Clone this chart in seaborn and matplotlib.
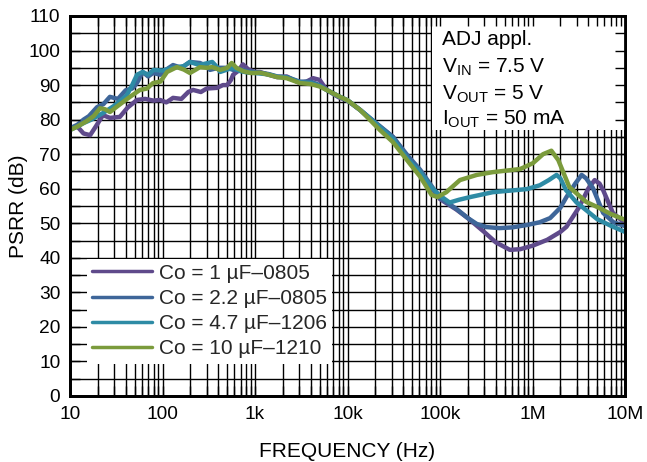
import numpy as np
import pandas as pd
import matplotlib
matplotlib.use("Agg")
import matplotlib.pyplot as plt
from matplotlib.lines import Line2D
from matplotlib.patches import Rectangle
from matplotlib.ticker import FixedLocator, LogLocator, NullFormatter, MultipleLocator
import seaborn as sns

# PSRR vs frequency for four output capacitors
labels = ["Co = 1 µF–0805", "Co = 2.2 µF–0805", "Co = 4.7 µF–1206", "Co = 10 µF–1210"]
colors = ["#5f4a8b", "#3e6699", "#2e8ba5", "#7b9b3c"]

f_1u = [10, 12, 14, 16.5, 19, 22.7, 27, 34.6, 42, 53, 65, 80, 94, 110, 130, 160, 190, 214,
        260, 300, 388, 450, 500, 550, 580, 650, 740, 850, 1000, 1130, 1400, 1740, 2200, 3050,
        3600, 4250, 5000, 5950, 8000, 10e3, 13.7e3, 20e3, 31e3, 45e3, 61e3, 80e3, 100e3,
        150e3, 200e3, 300e3, 400e3, 570e3, 736e3, 1e6, 1.44e6, 2e6, 2.33e6, 3.2e6, 4e6,
        4.7e6, 5.3e6, 5.8e6, 7.4e6, 10e6]
db_1u = [77.5, 78, 76, 75.5, 78, 81.3, 80.5, 80.8, 83.5, 85.7, 86, 85.5, 85.7, 85, 86.3, 86,
         88, 88.6, 88, 89, 89.2, 90, 90, 91.5, 93, 94, 96, 94.5, 93.8, 93.8, 93, 92.3, 92.5,
         90.6, 91, 92, 91.5, 88.6, 86.5, 85.5, 82.8, 79, 75, 69, 65, 60.5, 57, 54, 51.5,
         47.5, 44.5, 42.3, 42.5, 43.5, 45.2, 47.5, 49, 54.7, 60, 62.5, 61.5, 59.6, 53, 50]

f_2u2 = [10, 12, 14, 16, 19.6, 23, 27, 33, 40, 47, 53, 61, 70, 79, 95, 110, 130, 160, 198,
         254, 300, 326, 400, 500, 580, 700, 850, 1000, 1400, 1740, 2200, 3050, 4000, 5000,
         5950, 8000, 10e3, 13.7e3, 20e3, 31e3, 45e3, 61e3, 80e3, 100e3, 150e3, 200e3, 250e3,
         318e3, 440e3, 600e3, 870e3, 1.2e6, 1.55e6, 2e6, 2.33e6, 2.9e6, 3.4e6, 3.8e6, 4.5e6,
         5.8e6, 7.5e6, 10e6]
db_2u2 = [77.5, 78.5, 80, 81, 83.6, 84.5, 86.6, 86, 88.5, 89, 90.6, 93.8, 92.5, 93.5, 93,
          94.5, 95.8, 95, 96.7, 96.4, 95.5, 94.4, 95, 95, 94.4, 94.5, 94, 93.8, 93.2, 92.5,
          92.3, 91, 91, 90, 88.6, 86.8, 85.6, 82.8, 79.2, 75, 69.5, 65.5, 61, 57.3, 54.2,
          51.5, 49.8, 48.9, 48.6, 48.8, 49.5, 50.3, 51.5, 54.5, 57.6, 61.5, 64, 63, 60.2, 53,
          50.3, 49.2]

f_4u7 = [10, 12, 14, 17, 22.7, 30, 41, 47, 53, 61, 70, 80, 100, 120, 143, 170, 198, 250,
         300, 345, 380, 420, 500, 580, 700, 850, 1000, 1400, 1740, 2200, 3050, 4000, 5000,
         5950, 8000, 10e3, 13.7e3, 20e3, 31e3, 45e3, 61e3, 80e3, 100e3, 127e3, 160e3, 213e3,
         372e3, 600e3, 870e3, 1.2e6, 1.5e6, 1.82e6, 2e6, 2.3e6, 3e6, 3.8e6, 5e6, 7e6, 10e6]
db_4u7 = [77, 78, 79, 80, 81.9, 84, 87, 90, 93, 93.8, 93, 94.4, 94.2, 94.8, 95.2, 95.5,
          96.7, 95.8, 96.3, 96.7, 95.5, 93.8, 94.5, 95, 94, 93.6, 93.5, 93.1, 92.4, 92.2,
          90.8, 90.6, 89.8, 88.6, 86.8, 85.6, 82.8, 79, 74.5, 68.5, 64.8, 60.5, 58, 56,
          56.8, 57.6, 59, 59.5, 59.9, 61, 62.5, 64, 63, 59.6, 56, 53.8, 51.2, 49.3, 47.5]

f_10u = [10, 12, 15, 18, 21.1, 24, 27, 33, 44.5, 57, 68, 79, 95, 112, 143, 170, 198, 230,
         254, 300, 345, 420, 500, 560, 630, 750, 900, 1000, 1130, 1400, 1740, 2200, 3050,
         4000, 5000, 5950, 8000, 10e3, 13.7e3, 22.4e3, 31e3, 46.7e3, 61e3, 81e3, 94e3,
         117e3, 164e3, 250e3, 372e3, 736e3, 1.01e6, 1.3e6, 1.6e6, 1.9e6, 2.5e6, 3.8e6,
         5.3e6, 7e6, 10e6]
db_10u = [77, 78, 79.5, 81, 83.3, 83, 82.2, 84, 86.6, 88.6, 89, 90.6, 91, 93.8, 95.2, 94.5,
          93.5, 94.5, 95.2, 95, 95.2, 94.4, 95, 96.4, 95, 94, 93.5, 93.5, 93.6, 93, 92.3,
          92, 90.6, 90.3, 89.6, 88.6, 86.8, 85.6, 82.8, 77, 73.5, 67.4, 63.5, 58.2, 57.6,
          59, 62.5, 64, 64.8, 65.7, 67.4, 70, 71, 68.3, 60.5, 56.2, 54.4, 52.7, 51]

x_ticks = [10, 100, 1e3, 1e4, 1e5, 1e6, 1e7]
x_ticklabels = ["10", "100", "1k", "10k", "100k", "1M", "10M"]
y_ticks = list(range(0, 111, 10))

frames = []
for lab, f, d in zip(labels, [f_1u, f_2u2, f_4u7, f_10u], [db_1u, db_2u2, db_4u7, db_10u]):
    frames.append(pd.DataFrame({"freq": f, "psrr": d, "cap": lab}))
df = pd.concat(frames, ignore_index=True)

sns.set_theme(style="white")
plt.rcParams["font.family"] = ["Liberation Sans", "DejaVu Sans"]
plt.rcParams["mathtext.fontset"] = "custom"
plt.rcParams["mathtext.rm"] = "Liberation Sans"
plt.rcParams["mathtext.it"] = "Liberation Sans:italic"

fig = plt.figure(figsize=(6.47, 4.62), dpi=100)
rect = [70 / 647, 1 - 396 / 462, 555 / 647, 380 / 462]
ax = fig.add_axes(rect)

sns.lineplot(data=df, x="freq", y="psrr", hue="cap", palette=colors, hue_order=labels,
             sort=False, estimator=None, linewidth=3.2, legend=False, ax=ax, zorder=3)

ax.set_xscale("log")
ax.set_xlim(10, 1e7)
ax.set_ylim(0, 110)
ax.xaxis.set_major_locator(FixedLocator(x_ticks))
ax.set_xticklabels(x_ticklabels)
ax.xaxis.set_minor_locator(LogLocator(base=10, subs=np.arange(2, 10)))
ax.xaxis.set_minor_formatter(NullFormatter())
ax.set_yticks(y_ticks)
ax.yaxis.set_minor_locator(MultipleLocator(5))
ax.grid(True, which="both", color="black", linewidth=1.0)
ax.tick_params(axis="both", which="both", length=0, labelsize=13.8, labelcolor="black", pad=7)
for s in ax.spines.values():
    s.set_color("black")
    s.set_linewidth(2)

ax.set_xlabel("FREQUENCY (Hz)", fontsize=15, color="black", labelpad=14)
ax.set_ylabel("PSRR (dB)", fontsize=15, color="black", labelpad=0)

# legend with thin line handles on a plain white box
handles = [Line2D([0], [0], color=c, lw=2.5) for c in colors]
leg = ax.legend(handles, labels, loc="lower left", bbox_to_anchor=(0.03, 0.085),
                fontsize=15, frameon=True, fancybox=False, handlelength=2.9,
                handletextpad=0.3, labelspacing=0.3, borderpad=0.25, borderaxespad=0)
leg.get_frame().set_facecolor("white")
leg.get_frame().set_edgecolor("none")
leg.get_frame().set_alpha(1)
leg.set_zorder(6)

# conditions box in the upper right corner
ax.add_patch(Rectangle((0.652, 0.70), 0.348, 0.30, transform=ax.transAxes,
                       facecolor="white", edgecolor="none", zorder=5))
notes = ["ADJ appl.", r"V$_{\mathrm{IN}}$ = 7.5 V", r"V$_{\mathrm{OUT}}$ = 5 V",
         r"I$_{\mathrm{OUT}}$ = 50 mA"]
for txt, yb in zip(notes, [0.924, 0.850, 0.779, 0.713]):
    ax.text(0.670, yb, txt, transform=ax.transAxes, fontsize=15, va="baseline",
            ha="left", color="black", zorder=7)

# inward ticks drawn on top of the boxes
top = fig.add_axes(rect, sharex=ax, sharey=ax)
top.patch.set_visible(False)
for s in top.spines.values():
    s.set_color("black")
    s.set_linewidth(2)
top.tick_params(axis="both", which="both", direction="in", length=7, width=1,
                color="black", top=True, right=True, bottom=True, left=True,
                labelbottom=False, labelleft=False)
top.grid(False)
top.set_xlabel("")
top.set_ylabel("")

fig.savefig("out.png", dpi=100)
